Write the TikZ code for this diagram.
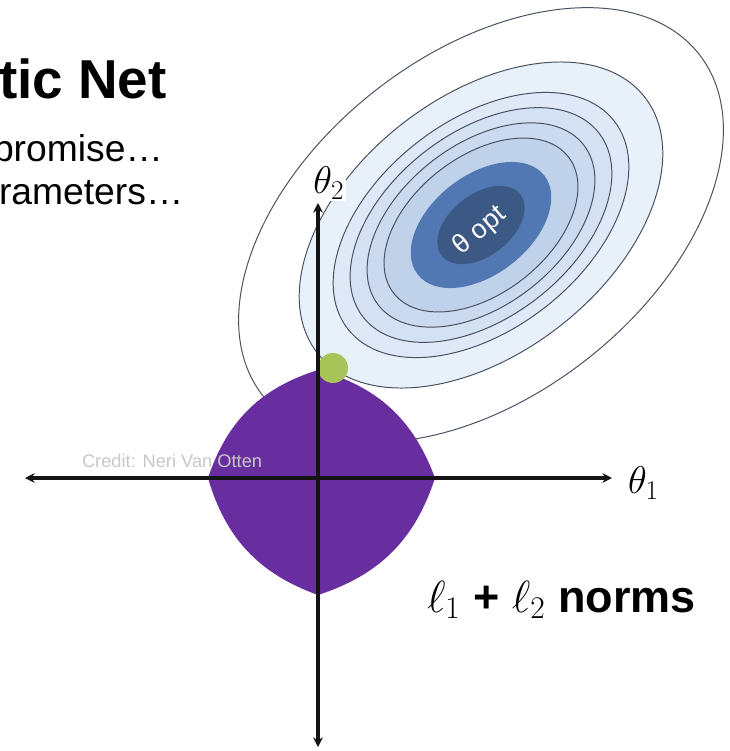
\RequirePackage{fix-cm}
\documentclass[tikz,border=0pt]{standalone}
\usepackage[no-math]{fontspec}
\setmainfont{Liberation Sans}
\usetikzlibrary{calc, arrows.meta, positioning}

\definecolor{normpurple}{RGB}{104,46,160}
\definecolor{dotgreen}{RGB}{166,196,88}
\definecolor{optdark}{RGB}{60,88,132}
\definecolor{optmid}{RGB}{82,120,180}
\definecolor{ringa}{RGB}{232,240,250}
\definecolor{ringb}{RGB}{222,232,246}
\definecolor{ringc}{RGB}{212,225,242}
\definecolor{ringd}{RGB}{203,218,238}
\definecolor{ringe}{RGB}{192,210,234}
\definecolor{contourline}{RGB}{72,80,98}
\definecolor{creditgray}{RGB}{200,200,200}

\begin{document}
\begin{tikzpicture}[
        x=0.025cm, y=-0.025cm,
        every node/.style={inner sep=0pt, outer sep=0pt},
        axis/.style={line width=2.3pt, draw=black!92,
            {Stealth[length=2.4mm,width=2.4mm]}-{Stealth[length=2.4mm,width=2.4mm]}},
        contour/.style={draw=contourline, line width=0.7pt},
        bigtext/.style={font=\fontsize{26.5}{29}\selectfont},
        axislabel/.style={font=\fontsize{27.5}{29}\selectfont}
    ]
    \useasboundingbox (0,0) rectangle (730,751);
    \clip (0,0) rectangle (730,751);

    % Title, cut at the left edge
    \node (title) [anchor=base west, font=\bfseries\fontsize{39}{42}\selectfont] at (-1,98) {tic Net};
    \node (lineA) [anchor=base west, bigtext] at (-7,161) {promise…};
    \node (lineB) [anchor=base west, bigtext] at (-1,204) {rameters…};

    % Contours
    \coordinate (opt) at (481,225);
    \foreach \s/\col in {1.00/white, 0.75/ringa, 0.61/ringb, 0.54/ringc, 0.47/ringd, 0.40/ringe}
        \draw[contour, fill=\col, rotate around={38:(opt)}] (opt) ellipse [x radius=277*\s, y radius=171*\s];
    \fill[optmid, rotate around={38:(opt)}] (opt) ellipse [x radius=277*0.29, y radius=171*0.29];
    \fill[optdark, rotate around={38:(opt)}] (opt) ellipse [x radius=277*0.18, y radius=171*0.18];
    \node (optlabel) [rotate=40, text=white, font=\fontsize{19}{20}\selectfont] at (480,231) {θ opt};

    % Norm ball
    \coordinate (origin) at (318,478);
    \coordinate (ballR) at (435,478);
    \coordinate (ballT) at (318,370);
    \coordinate (ballL) at (208,478);
    \coordinate (ballB) at (318,595);
    \fill[normpurple] (ballR) to[bend right=27] (ballT) to[bend right=27] (ballL)
        to[bend right=27] (ballB) to[bend right=27] (ballR) -- cycle;
    \node (credit) [anchor=base west, text=creditgray, font=\fontsize{13}{14}\selectfont] at (82,467) {Credit: Neri Van Otten};

    % Touching point
    \node (touch) [circle, fill=dotgreen, minimum size=0.75cm] at (333,368) {};

    % Axes
    \coordinate (xneg) at (25,478);
    \coordinate (xpos) at (612,478);
    \coordinate (ypos) at (318,203);
    \coordinate (yneg) at (318,747);
    \draw[axis] (xneg) -- (xpos);
    \draw[axis] (yneg) -- (ypos);

    % Labels
    \node (thetaA) [right=0.4cm of xpos, yshift=-0.12cm, axislabel] {$\theta_1$};
    \node (thetaB) [above=0.05cm of ypos, xshift=0.27cm, fill=white, inner sep=1pt, axislabel] {$\theta_2$};
    \node (norms) [anchor=base west, font=\bfseries\fontsize{32}{34}\selectfont] at (427,612) {$\ell_1$ + $\ell_2$ norms};

\end{tikzpicture}
\end{document}
